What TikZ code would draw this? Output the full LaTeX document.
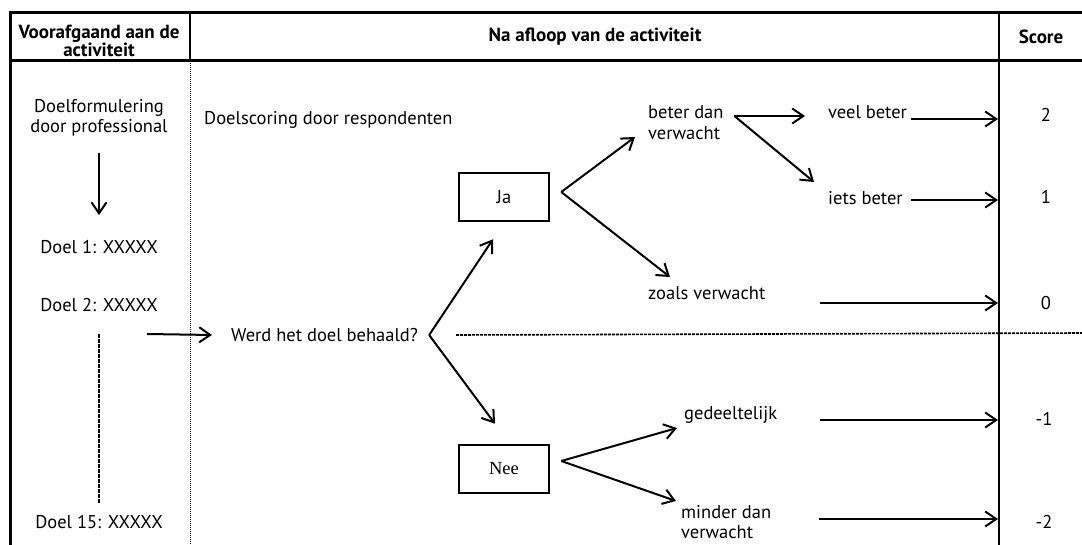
\documentclass[tikz,border=0pt]{standalone}
\usepackage{fontspec}
\setmainfont{PT Sans}
\newfontfamily\neefont{Liberation Serif}
\usepackage{tikz}
\usetikzlibrary{arrows.meta, positioning}
\tikzset{
    txt/.style={inner sep=0pt, align=center, font=\fontsize{18.5}{20}\selectfont},
    txtleft/.style={inner sep=0pt, align=left, anchor=west, font=\fontsize{18.5}{20.5}\selectfont},
    head/.style={inner sep=0pt, align=center, font=\bfseries\fontsize{19}{18}\selectfont},
    answer/.style={rectangle, draw, line width=2.5pt, minimum width=90pt, minimum height=48pt, inner sep=0pt, font=\fontsize{18.5}{20}\selectfont},
    flow/.style={-{Straight Barb[length=11pt,width=15pt]}, line width=2pt},
    border/.style={line width=3pt},
    colline/.style={line width=2pt},
    sepline/.style={line width=0.9pt, dash pattern=on 1pt off 1pt},
    midline/.style={line width=1.6pt, dash pattern=on 3pt off 1pt},
    moregoals/.style={line width=2pt, dash pattern=on 4pt off 1pt}
}

\begin{document}
\begin{tikzpicture}[x=1pt, y=-1pt]
    \useasboundingbox (0,0) rectangle (1082,545);

    % Table frame
    \draw[border] (1082,13) -- (10,13) -- (10,545);
    \draw[border] (10,61) -- (1082,61);
    \draw[colline] (190,13) -- (190,61);
    \draw[sepline] (190,61) -- (190,545);
    \draw[colline] (999,13) -- (999,545);

    % Header
    \node[head] (h_pre) at (99,41) {Voorafgaand aan de\\activiteit};
    \node[head] (h_post) at (595,37) {Na afloop van de activiteit};
    \node[head] (h_score) at (1041,37) {Score};

    % Before the activity
    \node[txt] (formul) at (99,118) {Doelformulering\\door professional};
    \node[txt] (doel1) at (99,247) {Doel 1: XXXXX};
    \node[txt] (doel2) at (99,305) {Doel 2: XXXXX};
    \node[txt] (doel15) at (99,522) {Doel 15: XXXXX};
    \coordinate (goal) at (147,334);

    % After the activity
    \node[txtleft] (respond) at (204,120) {Doelscoring door respondenten};
    \node[txtleft] (vraag) at (231,335) {Werd het doel behaald?};
    \node[answer] (ja) at (504,197) {Ja};
    \node[answer, font=\neefont\fontsize{18.5}{20}\selectfont] (nee) at (504,469) {Nee};

    % Outcomes
    \node[txtleft, font=\fontsize{18.5}{21}\selectfont] (beter) at (648,122.5) {beter dan\\verwacht};
    \node[txtleft] (veel) at (828,112) {veel beter};
    \node[txtleft] (iets) at (828,198) {iets beter};
    \node[txtleft] (zoals) at (648,293) {zoals verwacht};
    \node[txtleft] (gedeelt) at (684,415) {gedeeltelijk};
    \node[txtleft, font=\fontsize{18.5}{20}\selectfont] (minder) at (681,522) {minder dan\\verwacht};

    % Scores
    \node[txt] (s2) at (1046,115) {2};
    \node[txt] (s1) at (1046,197) {1};
    \node[txt] (s0) at (1046,303) {0};
    \node[txt] (sm1) at (1044,419) {-1};
    \node[txt] (sm2) at (1044,522) {-2};
    \coordinate (row2) at (998,119);
    \coordinate (row1) at (998,200);
    \coordinate (row0) at (998,303);
    \coordinate (rowm1) at (998,420);
    \coordinate (rowm2) at (998,519);

    % Yes / no split
    \draw[midline] ([xshift=38pt]vraag.east) -- (1082,333);

    % Flows
    \draw[flow] ([yshift=-16pt]formul.south) -- ([yshift=25pt]doel1.north);
    \draw[moregoals] ([yshift=-22pt]doel2.south) -- ([yshift=12pt]doel15.north);
    \draw[flow] (goal) -- ([xshift=-19pt]vraag.west);
    \draw[flow] ([xshift=11pt]vraag.east) -- ([xshift=-11pt,yshift=-17pt]ja.south);
    \draw[flow] ([xshift=11pt]vraag.east) -- ([xshift=-9pt,yshift=20pt]nee.north);
    \draw[flow] ([xshift=11pt,yshift=5pt]ja.east) -- ([xshift=-13pt,yshift=-14.5pt]beter.west);
    \draw[flow] ([xshift=11pt,yshift=5pt]ja.east) -- ([xshift=22pt,yshift=16pt]zoals.west);
    \draw[flow] ([xshift=86pt,yshift=6.5pt]beter.west) -- ([xshift=-23pt,yshift=-4pt]veel.west);
    \draw[flow] ([xshift=87pt,yshift=6pt]beter.west) -- ([xshift=-14pt,yshift=16pt]iets.west);
    \draw[flow] ([xshift=11pt,yshift=8pt]nee.east) -- ([xshift=-7pt,yshift=-13pt]gedeelt.west);
    \draw[flow] ([xshift=11pt,yshift=8pt]nee.east) -- ([xshift=-5pt,yshift=21pt]minder.west);
    \draw[flow] ([xshift=4pt]veel.east |- row2) -- (row2);
    \draw[flow] ([xshift=8pt]iets.east |- row1) -- (row1);
    \draw[flow] ([xshift=54pt]zoals.east |- row0) -- (row0);
    \draw[flow] ([xshift=43pt]gedeelt.east |- rowm1) -- (rowm1);
    \draw[flow] ([xshift=48pt]minder.east |- rowm2) -- (rowm2);
\end{tikzpicture}
\end{document}
